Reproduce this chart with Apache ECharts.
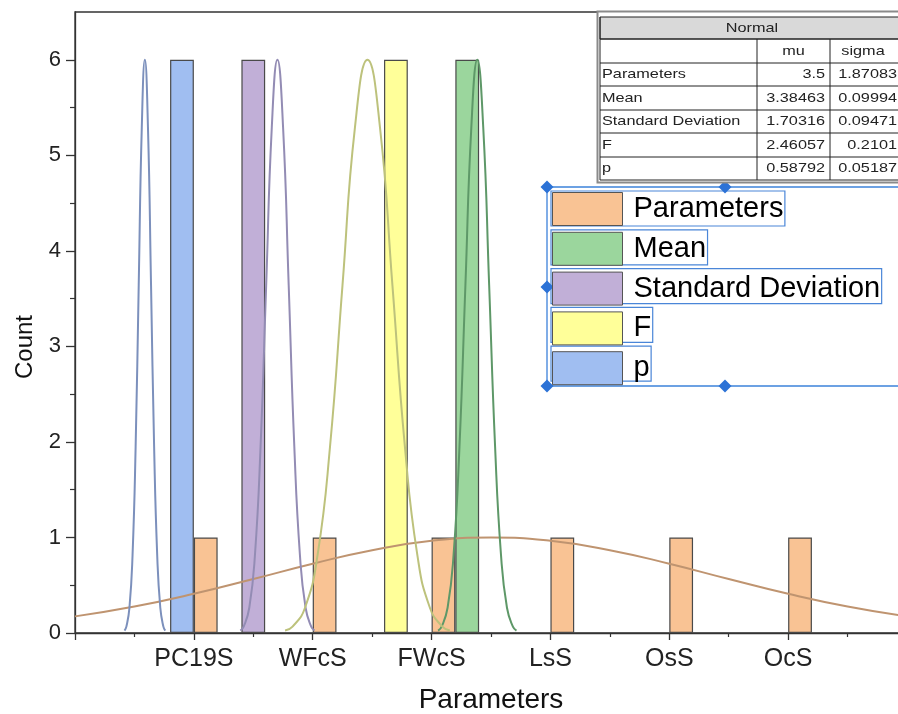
<!DOCTYPE html>
<html><head><meta charset="utf-8">
<script src="https://cdn.jsdelivr.net/npm/echarts@6/dist/echarts.min.js"></script>
<style>html,body{margin:0;padding:0;background:#fff}#c{width:898px;height:714px}</style>
</head><body><div id="c"></div>
<script>
// ---------- data ----------
const categories = ['PC19S', 'WFcS', 'FWcS', 'LsS', 'OsS', 'OcS'];   // at x = 1..6
const yTickValues = [0, 1, 2, 3, 4, 5, 6];
const binWidth = 0.2;
const paramsBins = [1.0, 2.0, 3.0, 4.0, 5.0, 6.0];
const paramsCounts = [1, 1, 1, 1, 1, 1];
const meanBins = [3.2];
const meanCounts = [6];
const sdBins = [1.4];
const sdCounts = [6];
const fBins = [2.6];
const fCounts = [6];
const pBins = [0.8];
const pCounts = [6];

// fitted normal curves
const paramsCurveX = [0, 0.5, 1, 1.5, 2, 2.5, 3, 3.5, 4, 4.5, 5, 5.5, 6, 6.5, 7];
const paramsCurveY = [0.174, 0.277, 0.410, 0.565, 0.725, 0.867, 0.965, 1.0, 0.965, 0.867, 0.725, 0.565, 0.410, 0.277, 0.174];
const meanCurveX = [3.0549, 3.0849, 3.1348, 3.1848, 3.2347, 3.2847, 3.3346, 3.3846, 3.4346, 3.4845, 3.5345, 3.5844, 3.6344, 3.6843, 3.7143];
const meanCurveY = [0.026, 0.067, 0.264, 0.812, 1.948, 3.639, 5.295, 6, 5.295, 3.639, 1.948, 0.812, 0.264, 0.067, 0.026];
const sdCurveX = [1.3907, 1.4191, 1.4664, 1.5138, 1.5611, 1.6085, 1.6558, 1.7032, 1.7506, 1.7979, 1.8453, 1.8926, 1.9400, 1.9873, 2.0157];
const sdCurveY = [0.026, 0.067, 0.264, 0.812, 1.948, 3.639, 5.295, 6, 5.295, 3.639, 1.948, 0.812, 0.264, 0.067, 0.026];
const fCurveX = [1.7673, 1.8303, 1.9353, 2.0404, 2.1454, 2.2505, 2.3556, 2.4606, 2.5657, 2.6707, 2.7758, 2.8808, 2.9859, 3.0909, 3.1539];
const fCurveY = [0.026, 0.067, 0.264, 0.812, 1.948, 3.639, 5.295, 6, 5.295, 3.639, 1.948, 0.812, 0.264, 0.067, 0.026];
const pCurveX = [0.4166, 0.4322, 0.4581, 0.4841, 0.5101, 0.5360, 0.5620, 0.5879, 0.6138, 0.6398, 0.6657, 0.6917, 0.7177, 0.7436, 0.7592];
const pCurveY = [0.026, 0.067, 0.264, 0.812, 1.948, 3.639, 5.295, 6, 5.295, 3.639, 1.948, 0.812, 0.264, 0.067, 0.026];

// table
const tableTitle = 'Normal';
const tableCols = ['mu', 'sigma'];
const tableRows = ['Parameters', 'Mean', 'Standard Deviation', 'F', 'p'];
const tableMu = ['3.5', '3.38463', '1.70316', '2.46057', '0.58792'];
const tableSigma = ['1.87083', '0.09994', '0.09471', '0.2101', '0.05187'];

// ---------- layout / style ----------
const FONT = "'Liberation Sans', Arial, sans-serif";
const GRID = {left: 75, top: 12, width: 832, height: 621};
const X_MIN = 0, X_MAX = 7, Y_MIN = 0, Y_MAX = 6.5;
const barPx = binWidth * GRID.width / (X_MAX - X_MIN);

const groups = [
  {name: 'Parameters', bins: paramsBins, counts: paramsCounts, cx: paramsCurveX, cy: paramsCurveY, fill: '#F9C394', line: '#BF9470'},
  {name: 'Mean', bins: meanBins, counts: meanCounts, cx: meanCurveX, cy: meanCurveY, fill: '#9BD69D', line: '#5E9868'},
  {name: 'Standard Deviation', bins: sdBins, counts: sdCounts, cx: sdCurveX, cy: sdCurveY, fill: '#C1AFD7', line: '#938CB4'},
  {name: 'F', bins: fBins, counts: fCounts, cx: fCurveX, cy: fCurveY, fill: '#FFFF99', line: '#BDC27C'},
  {name: 'p', bins: pBins, counts: pCounts, cx: pCurveX, cy: pCurveY, fill: '#A0BEF1', line: '#7C90BC'}
];

const series = [];
groups.forEach(g => {
  series.push({
    type: 'bar', name: g.name,
    data: g.bins.map((b, i) => [b + binWidth / 2, g.counts[i]]),
    barWidth: barPx, barGap: '-100%',
    itemStyle: {color: g.fill, borderColor: '#4a4a4a', borderWidth: 1.2},
    z: 2, silent: true
  });
});
groups.forEach(g => {
  series.push({
    type: 'line', name: g.name + ' fit',
    data: g.cx.map((x, i) => [x, g.cy[i]]),
    showSymbol: false, smooth: true, silent: true,
    lineStyle: {color: g.line, width: 2},
    z: 3
  });
});

// legend geometry
const LEG = {left: 552, top: 192, iw: 70, ih: 33, gap: 5.8, fs: 29, pad: 6};
const mctx = document.createElement('canvas').getContext('2d');
mctx.font = LEG.fs + 'px ' + FONT;
const graphics = [];

// legend frame + handles
graphics.push({type: 'rect', z: 100, shape: {x: 547, y: 187, width: 420, height: 199},
  style: {fill: null, stroke: '#3D82DA', lineWidth: 1.3}});
groups.forEach((g, i) => {
  const top = LEG.top + i * (LEG.ih + LEG.gap);
  const tw = mctx.measureText(g.name).width;
  const right = LEG.left + LEG.iw + 5 + LEG.pad + tw + 2;
  graphics.push({type: 'rect', z: 100, shape: {x: LEG.left - 1, y: top - 1, width: right - LEG.left + 1, height: LEG.ih + 2},
    style: {fill: null, stroke: '#4A86D8', lineWidth: 1.2}});
});
[[547, 187], [725, 187], [547, 287], [547, 386], [725, 386]].forEach(p => {
  const r = 6.5;
  graphics.push({type: 'polygon', z: 101, shape: {points: [[p[0], p[1] - r], [p[0] + r, p[1]], [p[0], p[1] + r], [p[0] - r, p[1]]]},
    style: {fill: '#2C72D6'}});
});

// table
const T = {x0: 600, c1: 757, c2: 830, x1: 960, yTitle: 17, yHead: 39, rowY: [63, 86, 110, 133, 157, 180]};
graphics.push({type: 'rect', z: 110, shape: {x: 597.5, y: 11.5, width: 400, height: 171},
  style: {fill: '#fff', stroke: '#8a8a8a', lineWidth: 2}});
graphics.push({type: 'rect', z: 111, shape: {x: T.x0, y: T.yTitle, width: T.x1 - T.x0, height: T.yHead - T.yTitle},
  style: {fill: '#d9d9d9', stroke: '#222', lineWidth: 1}});
const hLines = [T.yHead].concat(T.rowY);
hLines.forEach(y => graphics.push({type: 'line', z: 112, shape: {x1: T.x0, y1: y, x2: T.x1, y2: y}, style: {stroke: '#222', lineWidth: 1}}));
[T.x0, T.c1, T.c2].forEach((x, k) => graphics.push({type: 'line', z: 112,
  shape: {x1: x, y1: k === 0 ? T.yTitle : T.yHead, x2: x, y2: T.rowY[T.rowY.length - 1]}, style: {stroke: '#222', lineWidth: 1}}));
function tText(txt, x, y, align) {
  graphics.push({type: 'text', z: 113, x: x, y: y, scaleX: 1.25,
    style: {text: txt, fontSize: 13, fontFamily: FONT, fill: '#222', align: align, verticalAlign: 'middle'}});
}
tText(tableTitle, 752, (T.yTitle + T.yHead) / 2, 'center');
tText(tableCols[0], (T.c1 + T.c2) / 2, (T.yHead + T.rowY[0]) / 2, 'center');
tText(tableCols[1], 863, (T.yHead + T.rowY[0]) / 2, 'center');
tableRows.forEach((r, i) => {
  const yc = (T.rowY[i] + T.rowY[i + 1]) / 2;
  tText(r, 602, yc, 'left');
  tText(tableMu[i], 825, yc, 'right');
  tText(tableSigma[i], 897, yc, 'right');
});

// y title
graphics.push({type: 'text', x: 25, y: 347, rotation: Math.PI / 2,
  style: {text: 'Count', fontSize: 24, fontFamily: FONT, fill: '#111', align: 'center', verticalAlign: 'middle'}});

const option = {
  animation: false,
  backgroundColor: '#fff',
  grid: {left: GRID.left, top: GRID.top, width: GRID.width, height: GRID.height, show: true, borderColor: '#333', borderWidth: 1.3,
    containLabel: false, outerBoundsMode: 'none'},
  xAxis: {
    type: 'value', min: X_MIN, max: X_MAX, interval: 1,
    name: 'Parameters', nameLocation: 'middle', nameGap: 53,
    nameTextStyle: {fontSize: 28, fontFamily: FONT, color: '#111'},
    axisLine: {show: true, onZero: false, lineStyle: {color: '#333', width: 1.3}},
    axisTick: {show: true, inside: false, length: 7, lineStyle: {color: '#333', width: 1.3}},
    minorTick: {show: true, splitNumber: 2, length: 4, lineStyle: {color: '#333', width: 1.2}},
    splitLine: {show: false},
    axisLabel: {fontSize: 25, fontFamily: FONT, color: '#222', margin: 13.5,
      formatter: v => (Number.isInteger(v) && categories[v - 1]) ? categories[v - 1] : ''}
  },
  yAxis: {
    type: 'value', min: Y_MIN, max: Y_MAX, interval: 1,
    axisLine: {show: true, lineStyle: {color: '#333', width: 1.3}},
    axisTick: {show: true, inside: false, length: 9, customValues: yTickValues, lineStyle: {color: '#333', width: 1.3}},
    minorTick: {show: true, splitNumber: 2, length: 5, lineStyle: {color: '#333', width: 1.2}},
    splitLine: {show: false},
    axisLabel: {fontSize: 22, fontFamily: FONT, color: '#222', margin: 14, customValues: yTickValues,
      formatter: v => String(v)}
  },
  legend: {
    orient: 'vertical', left: LEG.left, top: LEG.top, padding: 0,
    itemWidth: LEG.iw, itemHeight: LEG.ih, itemGap: LEG.gap, icon: 'rect',
    selectedMode: false, z: 105,
    data: groups.map(g => g.name),
    itemStyle: {borderColor: '#555', borderWidth: 1},
    textStyle: {fontSize: LEG.fs, fontFamily: FONT, color: '#000', padding: [0, 0, 0, LEG.pad], lineHeight: LEG.ih}
  },
  graphic: graphics,
  series: series
};

const chart = echarts.init(document.getElementById('c'), null, {renderer: 'canvas'});
chart.setOption(option);
</script></body></html>
